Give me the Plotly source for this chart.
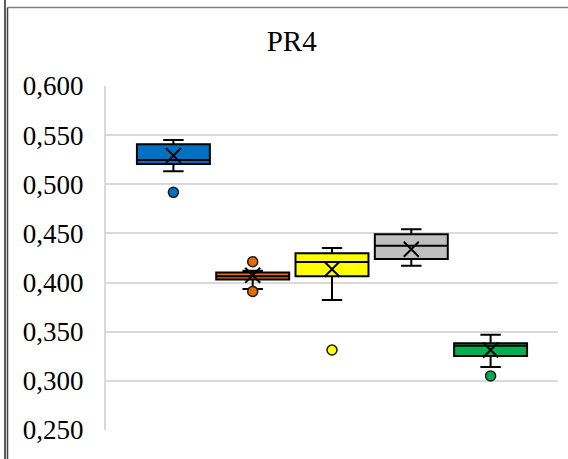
import plotly.graph_objects as go

# ---- data ----
categories = ["S1", "S2", "S3", "S4", "S5"]
colors = ["#0070C0", "#E36C09", "#FFFF00", "#BFBFBF", "#00B050"]
lower_whisker = [0.5132, 0.3935, 0.3823, 0.4172, 0.3141]
q1_vals = [0.5206, 0.4030, 0.4064, 0.4240, 0.3253]
median_vals = [0.5247, 0.4065, 0.4210, 0.4375, 0.3358]
q3_vals = [0.5407, 0.4102, 0.4298, 0.4491, 0.3382]
upper_whisker = [0.5450, 0.4120, 0.4352, 0.4542, 0.3470]
mean_vals = [0.5292, 0.4075, 0.4135, 0.4339, 0.3314]
outlier_cat = ["S1", "S2", "S2", "S3", "S5"]
outlier_vals = [0.4918, 0.4212, 0.3910, 0.3314, 0.3050]
outlier_colors = ["#0070C0", "#E36C09", "#E36C09", "#FFFF00", "#00B050"]
y_ticks = [0.25, 0.30, 0.35, 0.40, 0.45, 0.50, 0.55, 0.60]

W, H = 568, 459
ML, MR, MT, MB = 106, 10, 86, 29
FONT = "Liberation Serif, Times New Roman, serif"

fig = go.Figure()
for i, c in enumerate(categories):
    fig.add_trace(go.Box(
        x=[c], q1=[q1_vals[i]], median=[median_vals[i]], q3=[q3_vals[i]],
        lowerfence=[lower_whisker[i]], upperfence=[upper_whisker[i]],
        fillcolor=colors[i], line=dict(color="black", width=2),
        whiskerwidth=0.28, boxpoints=False, showlegend=False,
        width=0.92, hoverinfo="y",
    ))

# mean markers (X)
fig.add_trace(go.Scatter(
    x=categories, y=mean_vals, mode="markers", showlegend=False,
    marker=dict(symbol="x-thin-open", size=15, color="black",
                line=dict(color="black", width=2)),
))
# outliers
fig.add_trace(go.Scatter(
    x=outlier_cat, y=outlier_vals, mode="markers", showlegend=False,
    marker=dict(symbol="circle", size=10, color=outlier_colors,
                line=dict(color="#1a1a1a", width=1.5)),
))

pw = W - ML - MR
ph = H - MT - MB
def px_x(p):
    return (p - ML) / pw
def px_y(p):
    return 1 - (p - MT) / ph

# outer chart frame (cropped Excel chart border)
fig.add_shape(type="line", xref="paper", yref="paper",
              x0=px_x(5), x1=px_x(5), y0=px_y(-5), y1=px_y(H + 5),
              line=dict(color="#262626", width=1.5))
fig.add_shape(type="line", xref="paper", yref="paper",
              x0=px_x(7.5), x1=px_x(7.5), y0=px_y(7.5), y1=px_y(H + 5),
              line=dict(color="#404040", width=1.5))
fig.add_shape(type="line", xref="paper", yref="paper",
              x0=px_x(7.5), x1=px_x(W + 20), y0=px_y(7.5), y1=px_y(7.5),
              line=dict(color="#7f7f7f", width=1.5))

fig.update_layout(
    width=W, height=H,
    margin=dict(l=ML, r=MR, t=MT, b=MB),
    paper_bgcolor="white", plot_bgcolor="white",
    separators=",.",
    boxmode="overlay", boxgap=0.08, boxgroupgap=0,
    font=dict(family=FONT, color="black", size=27),
    title=dict(text="PR4", font=dict(family=FONT, size=29, color="black"),
               xref="container", x=291.7 / W, xanchor="center",
               yref="container", y=1 - 41 / H, yanchor="middle"),
    xaxis=dict(type="category", categoryorder="array", categoryarray=categories,
               range=[-0.85, 4.85], showticklabels=False, showgrid=False,
               zeroline=False, showline=False, ticks=""),
    yaxis=dict(range=[0.25, 0.60], tickvals=y_ticks, tickformat=".3f",
               showgrid=True, gridcolor="#d9d9d9", gridwidth=2,
               showline=True, linecolor="#d9d9d9", linewidth=2,
               zeroline=False, ticks="", ticklabelstandoff=15,
               tickfont=dict(family=FONT, size=27, color="black")),
)

fig.write_html("out.html", config={"displayModeBar": False},
               post_script="document.body.style.margin='0';document.body.style.overflow='hidden';")
